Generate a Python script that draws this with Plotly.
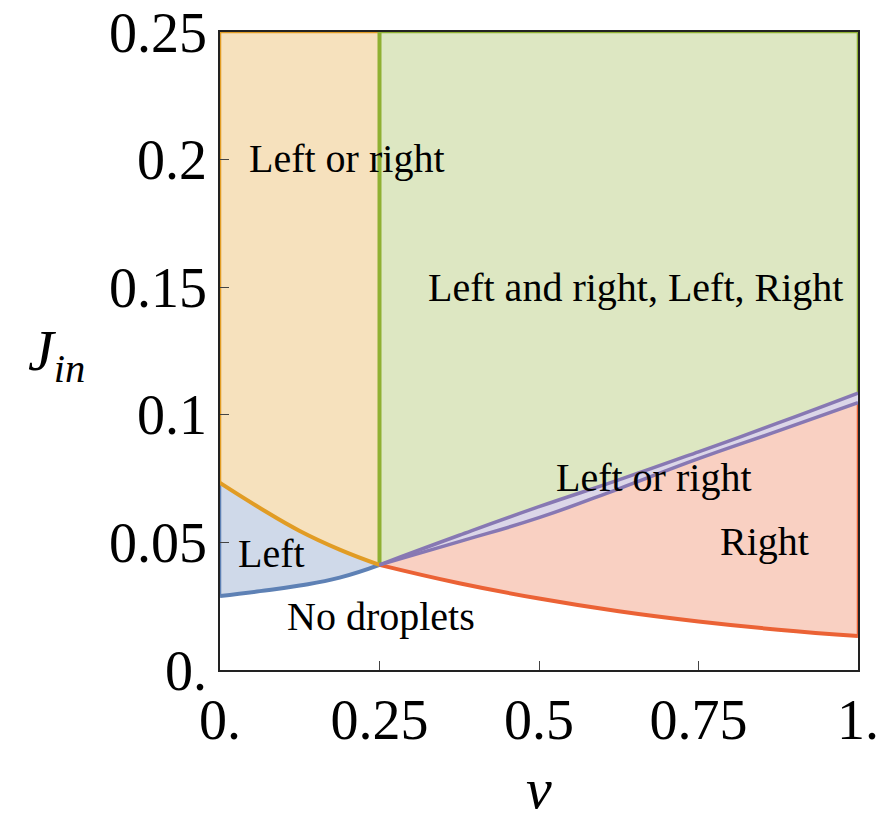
import plotly.graph_objects as go

# Phase boundaries J_in(v)
v_left = [0.0, 0.0625, 0.125, 0.1875, 0.25]
j_left_lower = [0.0290, 0.0309, 0.0331, 0.0362, 0.0412]   # blue: onset of "Left"
j_left_upper = [0.0733, 0.0635, 0.0545, 0.0472, 0.0412]   # orange

v_right = [0.25, 0.375, 0.5, 0.625, 0.75, 0.875, 1.0]
j_right_lower = [0.0412, 0.0340, 0.0280, 0.0230, 0.0190, 0.0158, 0.0133]  # red
j_band_lower = [0.0412, 0.0503, 0.0597, 0.0710, 0.0828, 0.0937, 0.1048]   # purple (lower)
j_band_upper = [0.0412, 0.0528, 0.0640, 0.0745, 0.0855, 0.0968, 0.1085]   # purple (upper)

v_split = 0.25
j_max = 0.25

x_ticks = [0, 0.25, 0.5, 0.75, 1]
x_ticktext = ["0.", "0.25", "0.5", "0.75", "1."]
y_ticks = [0, 0.05, 0.1, 0.15, 0.2, 0.25]
y_ticktext = ["0.", "0.05", "0.1", "0.15", "0.2", "0.25"]

region_labels = ["Left or right", "Left and right, Left, Right", "Left or right",
                 "Right", "Left", "No droplets"]
label_v = [0.199, 0.651, 0.680, 0.853, 0.080, 0.252]
label_j = [0.2006, 0.1500, 0.0756, 0.0502, 0.0455, 0.0208]

BLUE, ORANGE, GREEN, RED, PURPLE = "#5E81B5", "#E19C24", "#8FB032", "#EB6235", "#8778B3"
BLUE_F, ORANGE_F, GREEN_F, RED_F, PURPLE_F = "#CFD9E9", "#F6E1BD", "#DDE7C2", "#F9D0C2", "#DBD6E8"

FONT = "Liberation Serif"
SMOOTH = 1.3

fig = go.Figure()


def band(x, y, fill=None, fillcolor=None):
    fig.add_trace(go.Scatter(
        x=x, y=y, mode="lines", line=dict(width=0, shape="spline", smoothing=SMOOTH),
        fill=fill, fillcolor=fillcolor, hoverinfo="skip", showlegend=False))


# left half: blue region between blue and orange curves, orange region above
band(v_left, j_left_lower)
band(v_left, j_left_upper, "tonexty", BLUE_F)
band(v_left, [j_max] * len(v_left), "tonexty", ORANGE_F)

# right half: red, purple band, green
band(v_right, j_right_lower)
band(v_right, j_band_lower, "tonexty", RED_F)
band(v_right, j_band_upper, "tonexty", PURPLE_F)
band(v_right, [j_max] * len(v_right), "tonexty", GREEN_F)


def curve(x, y, color, width=4, shape="spline"):
    fig.add_trace(go.Scatter(
        x=x, y=y, mode="lines", line=dict(color=color, width=width, shape=shape, smoothing=SMOOTH),
        hoverinfo="skip", showlegend=False))


# region edges along the frame
curve([0, 0], [j_left_lower[0], j_left_upper[0]], BLUE, 2.5, "linear")
curve([0, 0], [j_left_upper[0], j_max], ORANGE, 2.5, "linear")
curve([1, 1], [j_right_lower[-1], j_band_lower[-1]], RED, 2.5, "linear")
curve([1, 1], [j_band_upper[-1], j_max], GREEN, 2.5, "linear")
curve([0, v_split], [j_max, j_max], ORANGE, 2.5, "linear")
curve([v_split, 1], [j_max, j_max], GREEN, 2.5, "linear")

# boundary curves
curve([v_split, v_split], [j_left_upper[-1], j_max], GREEN, 4, "linear")
curve(v_left, j_left_lower, BLUE)
curve(v_left, j_left_upper, ORANGE)
curve(v_right, j_right_lower, RED)
curve(v_right, j_band_lower, PURPLE, 3.5)
curve(v_right, j_band_upper, PURPLE, 3.5)

for txt, xv, yv in zip(region_labels, label_v, label_j):
    fig.add_annotation(x=xv, y=yv, text=txt, showarrow=False,
                       font=dict(family=FONT, size=40, color="#000000"))

# axis titles
fig.add_annotation(xref="paper", yref="paper", x=-0.256, y=0.494,
                   xanchor="center", yanchor="middle",
                   text="<i>J</i><sub><i>in</i></sub>",
                   showarrow=False, font=dict(family=FONT, size=58, color="#000000"))
fig.add_annotation(xref="paper", yref="paper", x=0.5, y=-0.186,
                   xanchor="center", yanchor="middle", text="<i>v</i>",
                   showarrow=False, font=dict(family=FONT, size=58, color="#000000"))

axis_common = dict(
    showgrid=False, zeroline=False, showline=True, linecolor="#222222", linewidth=1.5,
    mirror=True, ticks="inside", ticklen=9, tickwidth=1.2, tickcolor="#444444",
    tickfont=dict(family=FONT, size=56, color="#000000"), layer="above traces",
    automargin=False,
)

fig.update_layout(
    width=881, height=832,
    margin=dict(l=220, r=23, t=32, b=162),
    paper_bgcolor="white", plot_bgcolor="white",
    xaxis=dict(range=[0, 1], tickvals=x_ticks, ticktext=x_ticktext, **axis_common),
    yaxis=dict(range=[0, j_max], tickvals=y_ticks, ticktext=y_ticktext, **axis_common),
    showlegend=False,
)

fig.write_html("out.html")
